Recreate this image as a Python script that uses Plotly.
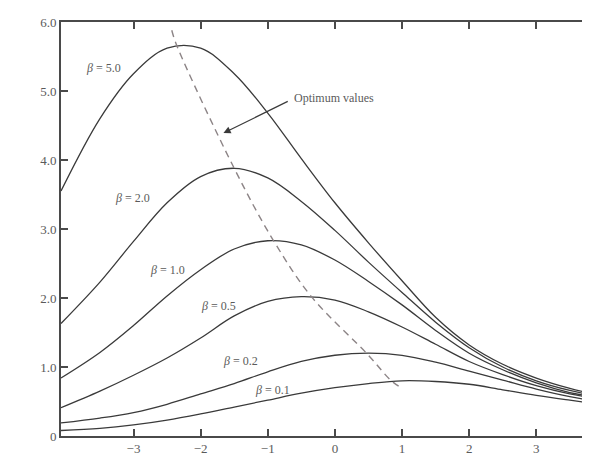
import plotly.graph_objects as go

# sample positions along the horizontal axis
x_vals = [-4.08, -3.5, -3.0, -2.5, -2.0, -1.5, -1.0, -0.5, 0.0, 0.5, 1.0, 1.5, 2.0, 2.5, 3.0, 3.5, 3.8]

beta_5_0 = [3.55, 4.60, 5.25, 5.62, 5.62, 5.25, 4.68, 4.02, 3.38, 2.80, 2.25, 1.72, 1.32, 1.04, 0.84, 0.69, 0.62]
beta_2_0 = [1.63, 2.23, 2.82, 3.38, 3.76, 3.88, 3.74, 3.40, 2.98, 2.52, 2.08, 1.65, 1.28, 1.00, 0.80, 0.66, 0.60]
beta_1_0 = [0.84, 1.21, 1.60, 2.03, 2.41, 2.71, 2.83, 2.77, 2.55, 2.24, 1.90, 1.53, 1.20, 0.96, 0.77, 0.63, 0.58]
beta_0_5 = [0.41, 0.65, 0.88, 1.13, 1.42, 1.74, 1.95, 2.02, 1.97, 1.80, 1.58, 1.33, 1.08, 0.89, 0.73, 0.61, 0.56]
beta_0_2 = [0.19, 0.26, 0.34, 0.46, 0.61, 0.76, 0.93, 1.08, 1.17, 1.20, 1.17, 1.07, 0.94, 0.81, 0.68, 0.57, 0.52]
beta_0_1 = [0.08, 0.11, 0.16, 0.23, 0.32, 0.42, 0.52, 0.62, 0.70, 0.76, 0.80, 0.79, 0.75, 0.67, 0.59, 0.52, 0.48]

# optimum-value locus (dashed)
opt_x = [-2.43, -2.36, -1.50, -0.92, -0.35, 0.50, 0.83, 1.00]
opt_y = [5.88, 5.67, 3.88, 2.84, 2.02, 1.17, 0.81, 0.69]

# curve labels
label_text = ["5.0", "2.0", "1.0", "0.5", "0.2", "0.1"]
label_x = [-3.44, -3.02, -2.49, -1.73, -1.41, -0.93]
label_y = [5.33, 3.45, 2.41, 1.88, 1.09, 0.67]

x_ticks = [-3, -2, -1, 0, 1, 2, 3]
x_ticktext = ["−3", "−2", "−1", "0", "1", "2", "3"]
y_ticks = [0, 1, 2, 3, 4, 5, 6]
y_ticktext = ["0", "1.0", "2.0", "3.0", "4.0", "5.0", "6.0"]

series = [beta_5_0, beta_2_0, beta_1_0, beta_0_5, beta_0_2, beta_0_1]

FONT = "Liberation Serif, DejaVu Serif, serif"
INK = "#3a3a3a"
TXT = "#5a5a5a"

fig = go.Figure()
for ys in series:
    fig.add_trace(go.Scatter(x=x_vals, y=ys, mode="lines",
                             line=dict(color=INK, width=1.3, shape="spline", smoothing=1.0),
                             hoverinfo="skip", showlegend=False))

fig.add_trace(go.Scatter(x=opt_x, y=opt_y, mode="lines",
                         line=dict(color="#8c8486", width=1.4, dash="7px,5px", shape="spline"),
                         hoverinfo="skip", showlegend=False))

for t, lx, ly in zip(label_text, label_x, label_y):
    fig.add_annotation(x=lx, y=ly, text="<i>β</i> = " + t, showarrow=False,
                       font=dict(family=FONT, size=12, color=TXT))

fig.add_annotation(x=-1.66, y=4.39, ax=-0.68, ay=4.86, axref="x", ayref="y",
                   text="", showarrow=True, arrowhead=2, arrowsize=1.2,
                   arrowwidth=1.2, arrowcolor=INK)
fig.add_annotation(x=-0.64, y=4.90, text="Optimum values", showarrow=False,
                   xanchor="left", font=dict(family=FONT, size=12, color=TXT))

axis_common = dict(showgrid=False, zeroline=False, showline=True, linecolor="#4a4a4a",
                   linewidth=1.6, mirror="ticks", ticks="inside", ticklen=7,
                   tickwidth=1.6, tickcolor="#4a4a4a",
                   tickfont=dict(family=FONT, size=13, color=TXT))

fig.update_xaxes(range=[-4.08, 3.8], tickvals=x_ticks, ticktext=x_ticktext, **axis_common)
fig.update_yaxes(range=[0, 6], tickvals=y_ticks, ticktext=y_ticktext, **axis_common)

fig.update_layout(width=590, height=456, margin=dict(l=53, r=6, t=14, b=28),
                  paper_bgcolor="white", plot_bgcolor="white")

fig.write_html("out.html")
